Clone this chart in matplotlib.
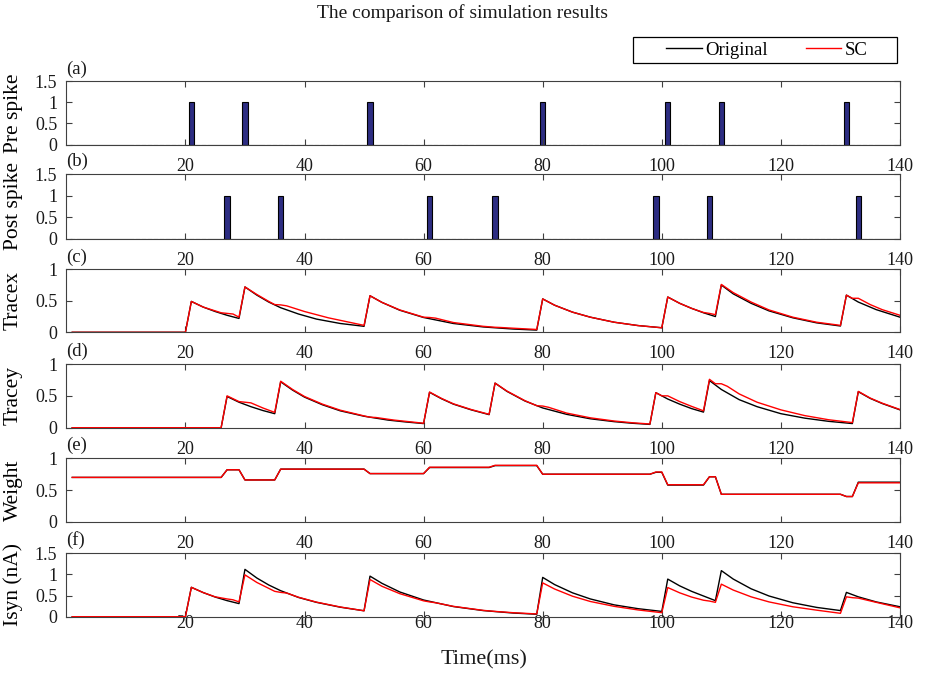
import numpy as np
import matplotlib.pyplot as plt
from matplotlib.patches import Rectangle
from matplotlib.lines import Line2D

plt.rcParams['font.family'] = ['Liberation Serif', 'DejaVu Serif']

# spike trains (ms)
t_ms = np.arange(1, 141)
pre_spike_times = [21, 30, 51, 80, 101, 110, 131]
post_spike_times = [27, 36, 61, 72, 99, 108, 133]

# trace x
tx_orig_t = [1, 20, 21, 23, 25, 27, 29, 30, 32, 34, 36, 39, 42, 46, 50, 51, 53, 56, 60, 65, 70, 75, 79,
             80, 82, 85, 88, 92, 96, 100, 101, 103, 105, 107, 109, 110, 112, 115, 118, 122, 126, 130,
             131, 133, 136, 140]
tx_orig_v = [0, 0, 0.49, 0.40, 0.33, 0.27, 0.22, 0.72, 0.59, 0.48, 0.39, 0.29, 0.21, 0.14, 0.095,
             0.58, 0.475, 0.35, 0.235, 0.14, 0.085, 0.052, 0.035, 0.53, 0.43, 0.32, 0.24, 0.16, 0.107,
             0.072, 0.56, 0.46, 0.38, 0.31, 0.25, 0.75, 0.61, 0.46, 0.34, 0.23, 0.15, 0.10,
             0.59, 0.48, 0.36, 0.24]
tx_sc_t = [1, 20, 21, 23, 25, 26, 27, 28, 29, 30, 32, 34, 35, 36, 37, 40, 44, 47, 50, 51, 53, 56, 60,
           61, 62, 65, 70, 72, 73, 75, 79, 80, 82, 85, 88, 92, 96, 100, 101, 103, 105, 107, 108, 109,
           110, 112, 115, 118, 122, 126, 130, 131, 132, 133, 135, 137, 140]
tx_sc_v = [0, 0, 0.49, 0.40, 0.34, 0.31, 0.30, 0.29, 0.24, 0.72, 0.60, 0.49, 0.44, 0.435, 0.42, 0.33,
           0.23, 0.17, 0.11, 0.58, 0.475, 0.355, 0.24, 0.235, 0.225, 0.155, 0.095, 0.08, 0.076, 0.065,
           0.045, 0.53, 0.43, 0.32, 0.24, 0.16, 0.107, 0.072, 0.56, 0.46, 0.38, 0.315, 0.30, 0.28,
           0.76, 0.63, 0.48, 0.355, 0.24, 0.16, 0.11, 0.59, 0.54, 0.54, 0.44, 0.36, 0.27]

# trace y
ty_orig_t = [1, 26, 27, 29, 31, 33, 35, 36, 38, 40, 43, 46, 50, 54, 57, 60, 61, 63, 65, 68, 71, 72, 74,
             77, 80, 84, 88, 92, 95, 98, 99, 101, 103, 105, 107, 108, 110, 113, 116, 120, 124, 128,
             132, 133, 135, 137, 140]
ty_orig_v = [0, 0, 0.49, 0.40, 0.33, 0.27, 0.22, 0.72, 0.59, 0.48, 0.36, 0.265, 0.18, 0.12, 0.09,
             0.065, 0.555, 0.455, 0.37, 0.28, 0.205, 0.70, 0.57, 0.42, 0.31, 0.21, 0.14, 0.095, 0.07,
             0.052, 0.55, 0.45, 0.37, 0.30, 0.245, 0.74, 0.60, 0.44, 0.33, 0.22, 0.15, 0.10, 0.065,
             0.565, 0.46, 0.38, 0.28]
ty_sc_t = [1, 26, 27, 29, 30, 31, 33, 35, 36, 38, 40, 43, 46, 50, 51, 52, 55, 60, 61, 63, 65, 68, 71,
           72, 74, 77, 79, 80, 81, 84, 88, 92, 95, 98, 99, 100, 101, 103, 105, 107, 108, 109, 110,
           111, 113, 116, 120, 124, 128, 132, 133, 135, 137, 140]
ty_sc_v = [0, 0, 0.50, 0.41, 0.40, 0.39, 0.31, 0.24, 0.73, 0.60, 0.49, 0.37, 0.275, 0.185, 0.165, 0.16,
           0.12, 0.07, 0.56, 0.46, 0.375, 0.285, 0.21, 0.70, 0.575, 0.425, 0.345, 0.34, 0.32, 0.23,
           0.155, 0.105, 0.078, 0.058, 0.55, 0.50, 0.50, 0.41, 0.335, 0.265, 0.76, 0.69, 0.69, 0.65,
           0.53, 0.40, 0.28, 0.19, 0.125, 0.08, 0.57, 0.465, 0.385, 0.285]

# weight
w_t = [1, 26, 27, 29, 30, 35, 36, 50, 51, 60, 61, 71, 72, 79, 80, 98, 99, 100, 101, 107, 108, 109,
       110, 130, 131, 132, 133, 140]
w_orig = [0.70, 0.70, 0.82, 0.82, 0.66, 0.66, 0.83, 0.83, 0.76, 0.76, 0.855, 0.855, 0.885, 0.885,
          0.75, 0.75, 0.78, 0.78, 0.58, 0.58, 0.71, 0.71, 0.435, 0.435, 0.40, 0.40, 0.625, 0.625]
w_sc = [0.70, 0.70, 0.82, 0.82, 0.66, 0.66, 0.83, 0.83, 0.76, 0.76, 0.86, 0.86, 0.89, 0.89,
        0.75, 0.75, 0.785, 0.785, 0.585, 0.585, 0.71, 0.71, 0.435, 0.435, 0.40, 0.40, 0.615, 0.615]

# synaptic current
isyn_orig_t = tx_orig_t
isyn_orig_v = [0, 0, 0.695, 0.57, 0.465, 0.38, 0.31, 1.12, 0.915, 0.75, 0.615, 0.455, 0.34, 0.225,
               0.14, 0.96, 0.79, 0.585, 0.395, 0.24, 0.145, 0.087, 0.058, 0.93, 0.76, 0.565, 0.42,
               0.28, 0.19, 0.125, 0.89, 0.73, 0.60, 0.49, 0.38, 1.09, 0.89, 0.66, 0.49, 0.33, 0.22,
               0.145, 0.575, 0.47, 0.35, 0.235]
isyn_sc_t = [1, 20, 21, 23, 25, 27, 28, 29, 30, 32, 34, 35, 36, 37, 39, 42, 46, 50, 51, 53, 56, 60, 61,
             62, 65, 70, 72, 75, 79, 80, 82, 85, 88, 92, 96, 100, 101, 103, 105, 107, 108, 109, 110,
             112, 115, 118, 122, 126, 130, 131, 132, 133, 136, 140]
isyn_sc_v = [0, 0, 0.695, 0.57, 0.47, 0.42, 0.40, 0.35, 0.99, 0.81, 0.67, 0.60, 0.575, 0.56, 0.46,
             0.345, 0.23, 0.14, 0.88, 0.72, 0.545, 0.375, 0.35, 0.33, 0.245, 0.15, 0.125, 0.095, 0.065,
             0.80, 0.655, 0.485, 0.36, 0.245, 0.16, 0.095, 0.69, 0.565, 0.465, 0.39, 0.37, 0.34, 0.77,
             0.63, 0.47, 0.35, 0.235, 0.155, 0.08, 0.47, 0.45, 0.44, 0.34, 0.21]

pre_train = np.isin(t_ms, pre_spike_times).astype(float)
post_train = np.isin(t_ms, post_spike_times).astype(float)

W, H = 925, 675
fig = plt.figure(figsize=(W / 100, H / 100), dpi=100)

# axes boxes in pixels (top, bottom)
boxes = [(81.3, 144.5), (174.3, 238.7), (269.3, 332.3), (364, 427.7), (458.3, 522), (553.3, 616.7)]
x0, x1 = 66.3, 900
axs = []
for top, bot in boxes:
    axs.append(fig.add_axes([x0 / W, 1 - bot / H, (x1 - x0) / W, (bot - top) / H]))

bar_col = '#2d2d82'
axs[0].bar(t_ms, pre_train, width=0.9, color=bar_col, edgecolor='black', linewidth=0.8)
axs[1].bar(t_ms, post_train, width=0.9, color=bar_col, edgecolor='black', linewidth=0.8)

axs[2].plot(tx_orig_t, tx_orig_v, color='black', lw=1.0)
axs[2].plot(tx_sc_t, tx_sc_v, color='red', lw=1.0)
axs[3].plot(ty_orig_t, ty_orig_v, color='black', lw=1.0)
axs[3].plot(ty_sc_t, ty_sc_v, color='red', lw=1.0)
axs[4].plot(w_t, w_orig, color='black', lw=1.0)
axs[4].plot(w_t, w_sc, color='red', lw=1.0)
axs[5].plot(isyn_orig_t, isyn_orig_v, color='black', lw=1.0)
axs[5].plot(isyn_sc_t, isyn_sc_v, color='red', lw=1.0)

ylabels = ['Pre spike', 'Post spike', 'Tracex', 'Tracey', 'Weight', 'Isyn (nA)']
letters = ['(a)', '(b)', '(c)', '(d)', '(e)', '(f)']
ymax = [1.5, 1.5, 1, 1, 1, 1.5]

for i, ax in enumerate(axs):
    ax.set_xlim(0, 140)
    ax.set_ylim(0, ymax[i])
    ax.set_xticks([20, 40, 60, 80, 100, 120, 140])
    ax.set_xticklabels(['20', '40', '60', '80', '100', '120', '140'])
    if ymax[i] == 1.5:
        ax.set_yticks([0, 0.5, 1, 1.5])
        ax.set_yticklabels(['0', '0.5', '1', '1.5'])
    else:
        ax.set_yticks([0, 0.5, 1])
        ax.set_yticklabels(['0', '0.5', '1'])
    for s in ax.spines.values():
        s.set_color('0.25')
        s.set_linewidth(0.8)
    ax.tick_params(direction='in', length=4.5, width=0.8, color='0.25', labelsize=13,
                   labelcolor='0.1', top=True, right=True)
    ax.tick_params(axis='x', pad=-1 if i == 5 else 9.5)
    ax.tick_params(axis='y', pad=6.5)
    ax.set_ylabel(ylabels[i], fontsize=15.5)
    ax.yaxis.set_label_coords(-0.052, 0.5)
    ax.text(0, 1.06, letters[i], transform=ax.transAxes, ha='left', va='bottom', fontsize=13.5,
            color='0.1')

fig.text(0.5, 1 - 13 / H, 'The comparison of simulation results', ha='center', va='center',
         fontsize=14, color='0.1')
fig.text(484 / W, 1 - 660 / H, 'Time(ms)', ha='center', va='center', fontsize=16, color='0.1')

# legend box
fig.patches.append(Rectangle((633 / W, 1 - 63 / H), 264 / W, 26 / H, transform=fig.transFigure,
                             fill=False, edgecolor='black', linewidth=0.9))
handles = [Line2D([], [], color='black', lw=1.0), Line2D([], [], color='red', lw=1.0)]
fig.legend(handles, ['Original', 'SC'], ncol=2, frameon=False, loc='center',
           bbox_to_anchor=(767 / W, 1 - 50 / H), fontsize=13.5, handlelength=1.9,
           handletextpad=0.2, columnspacing=2.0, borderpad=0.1)

fig.savefig('out.png', dpi=100)
